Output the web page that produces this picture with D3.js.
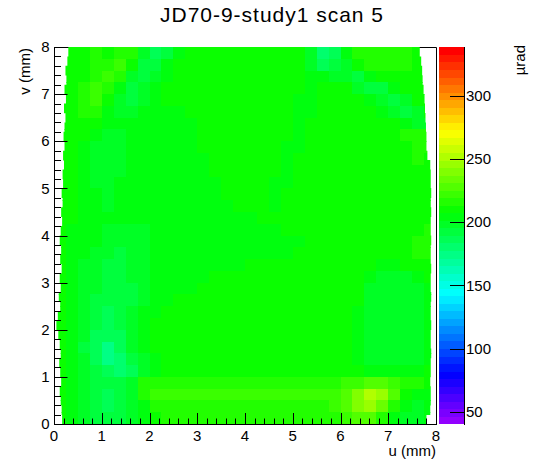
<!DOCTYPE html>
<html><head><meta charset="utf-8">
<script src="https://cdn.jsdelivr.net/npm/d3@7"></script>
<style>
body{margin:0;background:#fff}
svg{display:block}
text{font-family:"Liberation Sans",Arial,Helvetica,sans-serif;fill:#000}
</style>
</head><body>
<svg id="chart" width="546" height="472"></svg>
<script>
// ---------- data ----------
const chartTitle = "JD70-9-study1 scan 5";
const xTitle = "u (mm)";
const yTitle = "v (mm)";
const zTitle = "µrad";
const uRange = [0, 8];
const vRange = [0, 8];
const zRange = [40.3, 338.5];
const nLevels = 50;
const xTicks = [0, 1, 2, 3, 4, 5, 6, 7, 8];
const yTicks = [0, 1, 2, 3, 4, 5, 6, 7, 8];
const zTicks = [50, 100, 150, 200, 250, 300];

// deflection (µrad), rows from v = 8 (top) down to v = 0, columns u = 0 .. 8 (0.25 mm bins)
const zGrid = [
[209,209,210,214,212,216,218,200,186,192,204,209,209,209,209,209, 209,209,209,209,209,200,180,186,204,214,216,216,214,214,210,209],
[209,209,210,214,218,220,212,192,194,204,209,209,209,209,209,209, 209,209,209,209,209,198,186,190,200,210,214,216,216,214,212,209],
[209,209,212,216,222,216,198,192,198,204,209,209,209,209,209,209, 209,209,209,209,209,202,204,200,196,190,204,212,212,210,209,209],
[209,212,214,220,218,204,192,198,204,209,209,209,209,209,209,209, 209,209,209,209,209,202,209,209,209,198,192,194,204,210,210,210],
[209,212,216,220,212,198,194,200,204,209,209,209,209,209,209,209, 209,209,209,209,204,202,209,209,209,209,204,198,192,196,209,209],
[209,212,216,214,204,198,200,204,204,204,204,209,209,209,209,209, 209,209,209,209,204,204,209,209,209,209,209,204,200,194,196,209],
[209,212,212,209,204,204,204,204,204,204,204,204,209,209,209,209, 209,209,209,209,204,209,209,209,209,209,209,209,209,204,200,196],
[209,209,209,204,200,200,204,204,204,204,204,204,209,209,209,209, 209,209,209,209,204,209,209,209,209,209,209,209,212,214,216,214],
[209,209,204,200,198,200,204,204,204,204,204,204,209,209,209,209, 209,209,209,204,204,209,209,209,209,209,209,209,209,212,216,214],
[209,209,204,200,198,198,204,204,204,204,204,204,204,209,209,209, 209,209,209,204,209,209,209,209,209,209,209,209,209,212,214,212],
[209,209,204,200,198,200,204,204,204,204,204,204,204,209,209,209, 209,209,209,204,209,209,209,209,209,209,209,209,209,210,212,212],
[209,209,204,200,200,204,204,204,204,204,204,204,204,204,209,209, 209,209,204,204,209,209,209,209,209,209,209,209,209,209,210,210],
[209,209,204,204,200,204,204,204,204,204,204,204,204,204,209,209, 209,209,204,209,209,209,209,209,209,209,209,209,209,209,209,209],
[209,209,204,204,200,204,204,204,204,204,204,204,204,204,204,209, 209,209,204,209,209,209,209,209,209,209,209,209,209,209,209,209],
[209,209,204,204,204,204,204,204,204,204,204,204,204,204,204,204, 206,209,209,209,209,209,209,209,209,209,209,209,209,209,209,209],
[209,206,204,204,200,198,198,200,204,204,204,204,204,204,204,204, 206,206,206,209,209,209,209,209,209,209,209,209,209,209,212,214],
[209,204,204,204,198,198,198,200,204,204,204,204,204,204,204,204, 204,204,204,204,204,209,209,209,209,209,209,209,209,212,216,216],
[209,204,204,200,196,194,196,200,204,204,204,204,204,204,204,204, 204,204,204,204,209,209,209,209,209,209,209,209,209,212,214,214],
[209,204,200,198,194,192,196,200,204,204,204,204,204,204,204,204, 209,209,209,209,209,209,209,209,209,209,209,204,204,209,212,212],
[209,204,200,196,192,192,196,200,204,204,204,204,204,209,209,209, 209,209,209,209,209,209,209,209,209,209,204,200,200,200,204,209],
[209,204,200,196,192,190,194,200,204,204,204,204,209,209,209,209, 209,209,209,209,209,209,209,209,209,209,200,198,198,198,200,204],
[209,204,198,194,190,190,194,200,204,204,209,209,209,209,209,209, 209,209,209,209,209,209,209,209,209,209,200,198,198,198,200,204],
[209,204,198,192,188,190,196,202,206,209,209,209,209,209,209,209, 209,209,209,209,209,209,209,209,209,204,200,198,198,198,200,204],
[209,204,198,190,186,190,198,204,209,209,209,209,209,209,209,209, 209,209,209,209,209,209,209,209,209,204,198,198,198,198,200,204],
[209,204,196,188,184,188,198,204,209,209,209,209,209,209,209,209, 209,209,209,209,209,209,209,209,209,204,198,198,198,198,200,204],
[209,204,194,184,176,184,196,204,209,209,209,209,209,209,209,209, 209,209,209,209,209,209,209,209,209,204,198,198,198,198,200,204],
[209,204,196,186,176,180,190,200,204,209,209,209,209,209,209,209, 209,209,209,209,209,209,209,209,209,204,200,200,200,200,200,204],
[209,204,198,190,186,182,188,198,204,209,209,209,209,209,209,209, 209,209,209,209,209,209,209,209,209,209,204,204,204,204,206,209],
[209,204,198,192,190,192,200,216,218,218,218,218,218,218,218,218, 218,218,218,218,218,218,218,218,220,224,228,226,222,218,214,209],
[209,204,198,190,188,192,198,216,220,220,220,220,220,220,220,220, 220,220,220,220,220,220,220,222,226,240,252,246,230,212,204,204],
[209,204,198,192,188,192,198,206,216,216,216,216,216,216,216,216, 216,216,216,216,216,216,218,222,228,242,246,234,216,204,198,204],
[209,204,198,194,192,194,198,204,212,214,214,214,214,214,214,214, 214,214,214,214,214,216,216,218,222,228,228,216,204,198,198,204]
];

// measured extent of the scanned area, per 0.2 mm strip from v = 8 downwards
const edgeStrip = 0.2;
const leftEdge = [0.30,0.28,0.24,0.26,0.22,0.25,0.21,0.24,0.22,0.20,
                  0.22,0.19,0.21,0.18,0.19,0.16,0.18,0.15,0.17,0.14,
                  0.12,0.15,0.13,0.16,0.12,0.14,0.10,0.13,0.08,0.05,
                  0.09,0.12,0.14,0.11,0.13,0.15,0.12,0.14,0.16,0.17];
const rightEdge = [7.66,7.69,7.71,7.72,7.74,7.76,7.77,7.78,7.79,7.80,
                   7.80,7.82,7.88,7.89,7.89,7.90,7.89,7.90,7.89,7.89,
                   7.90,7.89,7.89,7.90,7.89,7.89,7.90,7.89,7.89,7.90,
                   7.89,7.89,7.90,7.89,7.89,7.88,7.89,7.89,7.88,7.80];

// ---------- drawing ----------
const svg = d3.select("#chart");
const frame = {x0: 54, x1: 436, y0: 47, y1: 424};
const bar = {x0: 439, x1: 464};

const x = d3.scaleLinear().domain(uRange).range([frame.x0, frame.x1]);
const y = d3.scaleLinear().domain(vRange).range([frame.y1, frame.y0]);
const zAxisScale = d3.scaleLinear().domain(zRange).range([frame.y1, frame.y0]);

// ROOT "pretty palette": hue 280 -> 0 in 50 steps, saturation 1, lightness 0.5
const palette = d3.range(nLevels).map(i => d3.hsl(Math.max(0, 280 - (i + 1) * 5.6), 1, 0.5).formatHex());
const band = d3.scaleQuantize().domain(zRange).range(d3.range(nLevels));
const colorOf = z => palette[band(z)];

// white background and frame top/right (underneath data)
svg.append("rect").attr("width", 546).attr("height", 472).attr("fill", "#fff");
svg.append("path")
  .attr("d", `M${frame.x0},${frame.y0 + 0.5}H${frame.x1 + 0.5}V${frame.y1}`)
  .attr("fill", "none").attr("stroke", "#000").attr("stroke-width", 1);

// clip to the scanned area
const clip = svg.append("defs").append("clipPath").attr("id", "scan");
leftEdge.forEach((l, i) => {
  const vTop = vRange[1] - i * edgeStrip, vBot = vRange[1] - (i + 1) * edgeStrip;
  clip.append("rect")
    .attr("x", x(l)).attr("y", y(vTop))
    .attr("width", x(rightEdge[i]) - x(l))
    .attr("height", y(vBot) - y(vTop) + 0.3);
});

const nRows = zGrid.length, nCols = zGrid[0].length;
const du = (uRange[1] - uRange[0]) / nCols, dv = (vRange[1] - vRange[0]) / nRows;
const cells = [];
zGrid.forEach((row, r) => row.forEach((z, c) => cells.push({r, c, z})));

svg.append("g").attr("clip-path", "url(#scan)")
  .selectAll("rect").data(cells).join("rect")
  .attr("x", d => x(uRange[0] + d.c * du))
  .attr("y", d => y(vRange[1] - d.r * dv))
  .attr("width", d => x(uRange[0] + (d.c + 1) * du) - x(uRange[0] + d.c * du) + 0.4)
  .attr("height", d => y(vRange[1] - (d.r + 1) * dv) - y(vRange[1] - d.r * dv) + 0.4)
  .attr("fill", d => colorOf(d.z))
  .attr("shape-rendering", "crispEdges");

// axes
const ax = svg.append("g").attr("stroke", "#000").attr("stroke-width", 1).attr("fill", "none");
ax.append("line").attr("x1", frame.x0).attr("x2", frame.x1 + 1).attr("y1", frame.y1 + 0.5).attr("y2", frame.y1 + 0.5);
ax.append("line").attr("x1", frame.x0 + 0.5).attr("x2", frame.x0 + 0.5).attr("y1", frame.y0).attr("y2", frame.y1 + 1);

const xMinor = x.ticks(40), yMinor = y.ticks(40);
xMinor.forEach(t => {
  const major = xTicks.includes(t);
  const px = Math.round(x(t)) + 0.5;
  ax.append("line").attr("x1", px).attr("x2", px).attr("y1", frame.y1).attr("y2", frame.y1 - (major ? 11 : 5.5));
});
yMinor.forEach(t => {
  const major = yTicks.includes(t);
  const py = Math.round(y(t)) + 0.5;
  ax.append("line").attr("x1", frame.x0).attr("x2", frame.x0 + (major ? 13.5 : 7)).attr("y1", py).attr("y2", py);
});

svg.append("g").selectAll("text").data(xTicks).join("text")
  .attr("x", d => x(d)).attr("y", 441).attr("text-anchor", "middle")
  .attr("font-size", 15).text(d => d);
svg.append("g").selectAll("text").data(yTicks).join("text")
  .attr("x", 49.5).attr("y", d => y(d) + 5.2).attr("text-anchor", "end")
  .attr("font-size", 15).text(d => d);

svg.append("text").attr("x", frame.x1).attr("y", 455.5).attr("text-anchor", "end")
  .attr("font-size", 15).text(xTitle);
svg.append("text").attr("transform", "translate(29.5,48) rotate(-90)")
  .attr("text-anchor", "end").attr("font-size", 15).text(yTitle);

// title
svg.append("text").attr("x", 271.5).attr("y", 22).attr("text-anchor", "middle")
  .attr("font-size", 21).attr("textLength", 223).attr("lengthAdjust", "spacing").text(chartTitle);

// colour bar
const levelEdges = d3.range(nLevels + 1).map(i => zRange[0] + i * (zRange[1] - zRange[0]) / nLevels);
svg.append("g").selectAll("rect").data(d3.range(nLevels)).join("rect")
  .attr("x", bar.x0).attr("width", bar.x1 - bar.x0)
  .attr("y", i => zAxisScale(levelEdges[i + 1]))
  .attr("height", i => zAxisScale(levelEdges[i]) - zAxisScale(levelEdges[i + 1]) + 0.4)
  .attr("fill", i => palette[i])
  .attr("shape-rendering", "crispEdges");
const zax = svg.append("g").attr("stroke", "#000").attr("stroke-width", 1);
zax.append("line").attr("x1", bar.x1 + 0.5).attr("x2", bar.x1 + 0.5).attr("y1", frame.y0).attr("y2", frame.y1 + 1);
zTicks.forEach(t => {
  const py = Math.round(zAxisScale(t)) + 0.5;
  zax.append("line").attr("x1", bar.x1 - 14).attr("x2", bar.x1 + 0.5).attr("y1", py).attr("y2", py);
});
svg.append("g").selectAll("text").data(zTicks).join("text")
  .attr("x", 466).attr("y", d => zAxisScale(d) + 5.4)
  .attr("font-size", 15).text(d => d);
svg.append("text").attr("transform", "translate(525,45) rotate(-90)")
  .attr("text-anchor", "end").attr("font-size", 15).text(zTitle);
</script>
</body></html>
